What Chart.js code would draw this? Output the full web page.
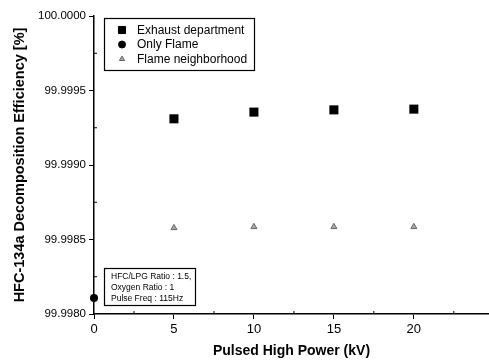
<html>

<head>
  <style>
    body { margin: 0; background: #fff; }
    #wrap { width: 489px; height: 362px; }
  </style>
</head>

<body>
  <div id="wrap"><canvas id="decompChart" width="489" height="362"></canvas></div>

  <script src="https://cdn.jsdelivr.net/npm/chart.js"></script>
  <script>
    // data
    const powerKv = [5, 10, 15, 20];
    const exhaustDept = [99.99931, 99.999355, 99.99937, 99.999375];
    const flameNeighborhood = [99.998578, 99.998585, 99.998585, 99.998585];
    const onlyFlameX = [0];
    const onlyFlame = [99.998107];
    const xTickValues = [0, 5, 10, 15, 20];
    const yTickValues = [99.998, 99.9985, 99.999, 99.9995, 100.0];
    const noteLines = ['HFC/LPG Ratio : 1.5,', 'Oxygen Ratio : 1', 'Pulse Freq : 115Hz'];

    const toPoints = (xs, ys) => xs.map((x, i) => ({ x: x, y: ys[i] }));

    // minor ticks (inward) + legend box + condition note
    const extras = {
      id: 'extras',
      afterDraw(chart) {
        const ctx = chart.ctx;
        const xs = chart.scales.x, ys = chart.scales.y;
        const area = chart.chartArea;
        ctx.save();
        ctx.strokeStyle = '#000';
        ctx.lineWidth = 1;
        // minor ticks
        for (let v = 2.5; v < 25; v += 5) {
          const px = xs.getPixelForValue(v);
          ctx.beginPath(); ctx.moveTo(px, area.bottom); ctx.lineTo(px, area.bottom - 3); ctx.stroke();
        }
        for (let v = 99.99825; v < 100; v += 0.0005) {
          const py = ys.getPixelForValue(v);
          ctx.beginPath(); ctx.moveTo(area.left, py); ctx.lineTo(area.left + 3, py); ctx.stroke();
        }

        // legend box
        ctx.lineWidth = 1.2;
        ctx.strokeRect(104.5, 18.5, 150, 52);
        ctx.font = '12px "Liberation Sans", Arial, sans-serif';
        ctx.textBaseline = 'middle';
        [0, 1, 2].forEach((di, row) => {
          const ds = chart.data.datasets[di];
          const y = 30 + row * 14.5;
          ctx.fillStyle = ds.backgroundColor;
          ctx.strokeStyle = ds.borderColor;
          ctx.lineWidth = 1;
          Chart.helpers.drawPoint(ctx, { pointStyle: ds.pointStyle, radius: ds.legendRadius, borderWidth: 1 }, 122, y);
          ctx.fillStyle = '#000';
          ctx.fillText(ds.label, 137, y + 0.5);
        });

        // condition note
        ctx.strokeStyle = '#000';
        ctx.lineWidth = 1.2;
        ctx.strokeRect(104.5, 268.5, 91, 37);
        ctx.font = '8.5px "Liberation Sans", Arial, sans-serif';
        noteLines.forEach((t, i) => ctx.fillText(t, 111, 277 + i * 11));
        ctx.restore();
      }
    };

    const ctx = document.getElementById('decompChart').getContext('2d');
    new Chart(ctx, {
      type: 'scatter',
      data: {
        datasets: [
          {
            label: 'Exhaust department',
            data: toPoints(powerKv, exhaustDept),
            pointStyle: 'rect',
            pointRadius: 6.4,
            legendRadius: 5,
            backgroundColor: '#000',
            borderColor: '#000',
            borderWidth: 0
          },
          {
            label: 'Only Flame',
            data: toPoints(onlyFlameX, onlyFlame),
            pointStyle: 'circle',
            pointRadius: 4,
            legendRadius: 3.5,
            backgroundColor: '#000',
            borderColor: '#000',
            borderWidth: 0,
            clip: false
          },
          {
            label: 'Flame neighborhood',
            data: toPoints(powerKv, flameNeighborhood),
            pointStyle: 'triangle',
            pointRadius: 3.5,
            legendRadius: 3,
            backgroundColor: '#aaa',
            borderColor: '#666',
            borderWidth: 1
          }
        ]
      },
      options: {
        responsive: false,
        animation: false,
        layout: { autoPadding: false, padding: { top: 16, right: 0, left: 0, bottom: 0 } },
        plugins: {
          legend: { display: false },
          tooltip: { enabled: false }
        },
        scales: {
          x: {
            type: 'linear',
            min: 0,
            max: 24.7,
            afterBuildTicks: s => { s.ticks = xTickValues.map(v => ({ value: v })); },
            afterFit: s => { s.height = 48; s.paddingRight = 0; s.paddingLeft = 0; },
            grid: { drawOnChartArea: false, drawTicks: true, tickLength: 5, color: '#000' },
            border: { display: true, color: '#000', width: 1.5 },
            ticks: {
              color: '#000',
              padding: 3,
              font: { family: '"Liberation Sans", Arial, sans-serif', size: 13 }
            },
            title: {
              display: true,
              text: 'Pulsed High Power (kV)',
              color: '#000',
              padding: { top: 4, bottom: 2 },
              font: { family: '"Liberation Sans", Arial, sans-serif', size: 14, weight: 'bold' }
            }
          },
          y: {
            type: 'linear',
            min: 99.998,
            max: 100.0,
            afterBuildTicks: s => { s.ticks = yTickValues.map(v => ({ value: v })); },
            afterFit: s => { s.width = 94; s.paddingTop = 0; s.paddingBottom = 0; },
            grid: { drawOnChartArea: false, drawTicks: true, tickLength: 5, color: '#000' },
            border: { display: true, color: '#000', width: 1.5 },
            ticks: {
              color: '#000',
              padding: 3,
              callback: v => Number(v).toFixed(4),
              font: { family: '"Liberation Sans", Arial, sans-serif', size: 11.5 }
            },
            title: {
              display: true,
              text: 'HFC-134a Decomposition Efficiency [%]',
              color: '#000',
              padding: { top: 11, bottom: 6 },
              font: { family: '"Liberation Sans", Arial, sans-serif', size: 14.5, weight: 'bold' }
            }
          }
        }
      },
      plugins: [extras]
    });
  </script>
</body>

</html>
